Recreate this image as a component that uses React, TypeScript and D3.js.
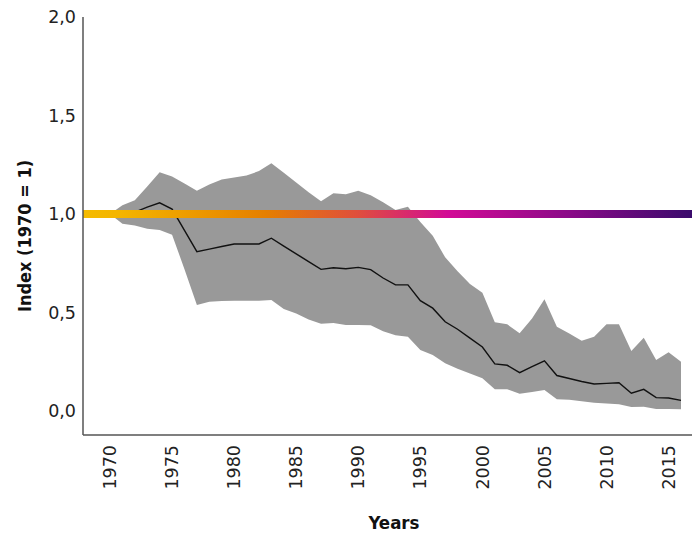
import React, { useEffect, useRef } from "react";
import * as d3 from "d3";

// years 1970..2016
const years = d3.range(1970, 2017);

// index (mean line)
const indexValues = [
  1.0, 1.0, 1.01, 1.035, 1.057, 1.025, 0.917, 0.809, 0.822, 0.835,
  0.848, 0.848, 0.848, 0.877, 0.837, 0.798, 0.758, 0.719, 0.727, 0.722,
  0.729, 0.718, 0.675, 0.64, 0.64, 0.56, 0.522, 0.453, 0.415, 0.37,
  0.325, 0.239, 0.232, 0.195, 0.225, 0.255, 0.18, 0.165, 0.15, 0.137,
  0.14, 0.143, 0.09, 0.11, 0.068, 0.066, 0.054,
];

// confidence band
const upperValues = [
  1.0, 1.045, 1.07, 1.14, 1.212, 1.19, 1.155, 1.118, 1.15, 1.175,
  1.185, 1.195, 1.218, 1.258, 1.21, 1.16, 1.11, 1.065, 1.105, 1.1,
  1.118, 1.095, 1.06, 1.02, 1.037, 0.96, 0.89, 0.78, 0.71, 0.645,
  0.6, 0.45, 0.44, 0.395, 0.47, 0.567, 0.428, 0.394, 0.357, 0.377,
  0.44, 0.44, 0.305, 0.372, 0.259, 0.298, 0.25,
];
const lowerValues = [
  1.0, 0.95, 0.942, 0.925, 0.919, 0.895, 0.72, 0.538, 0.555, 0.558,
  0.56, 0.56, 0.56, 0.563, 0.518, 0.495, 0.465, 0.443, 0.447, 0.437,
  0.437, 0.435, 0.405, 0.384, 0.377, 0.31, 0.284, 0.242, 0.215, 0.19,
  0.166, 0.11, 0.11, 0.088, 0.097, 0.107, 0.06, 0.057, 0.05, 0.042,
  0.038, 0.034, 0.02, 0.022, 0.01, 0.01, 0.009,
];

const yTicks = [0, 0.5, 1, 1.5, 2];
const xTicks = [1970, 1975, 1980, 1985, 1990, 1995, 2000, 2005, 2010, 2015];

const gradientStops = [
  [0, "#f5bb00"],
  [0.06, "#f4b500"],
  [0.3, "#e57f00"],
  [0.45, "#df4f3c"],
  [0.6, "#d20a96"],
  [0.8, "#8a0a88"],
  [1, "#3a0b6c"],
];

const W = 692, H = 533;

export default function App() {
  const ref = useRef(null);

  useEffect(() => {
    const svg = d3.select(ref.current);
    svg.selectAll("*").remove();

    const x = d3.scaleLinear().domain([1970, 2016]).range([110, 681]);
    const y = d3.scaleLinear().domain([0, 2]).range([411, 17]);
    const axisLeftX = 83, axisBottomY = 435;
    const tickFont = "'DejaVu Sans', sans-serif";
    const titleFont = "'DejaVu Sans Condensed', 'DejaVu Sans', sans-serif";

    const data = years.map((yr, i) => ({
      yr, v: indexValues[i], hi: upperValues[i], lo: lowerValues[i],
    }));

    const grad = svg.append("defs").append("linearGradient")
      .attr("id", "bandGrad")
      .attr("gradientUnits", "userSpaceOnUse")
      .attr("x1", axisLeftX).attr("x2", W).attr("y1", 0).attr("y2", 0);
    gradientStops.forEach(s => {
      grad.append("stop").attr("offset", s[0]).attr("stop-color", s[1]);
    });

    // gray band
    const area = d3.area()
      .x(d => x(d.yr))
      .y0(d => y(d.lo))
      .y1(d => y(d.hi));
    svg.append("path").datum(data)
      .attr("d", area)
      .attr("fill", "#999999");

    // index line
    const line = d3.line().x(d => x(d.yr)).y(d => y(d.v));
    svg.append("path").datum(data)
      .attr("d", line)
      .attr("fill", "none")
      .attr("stroke", "#111")
      .attr("stroke-width", 1.4);

    // baseline at 1
    svg.append("line")
      .attr("x1", axisLeftX).attr("x2", W)
      .attr("y1", y(1)).attr("y2", y(1))
      .attr("stroke", "url(#bandGrad)")
      .attr("stroke-width", 8);

    // axes
    svg.append("line")
      .attr("x1", axisLeftX).attr("x2", axisLeftX)
      .attr("y1", y(2)).attr("y2", axisBottomY)
      .attr("stroke", "#555").attr("stroke-width", 1.5);
    svg.append("line")
      .attr("x1", axisLeftX).attr("x2", W)
      .attr("y1", axisBottomY).attr("y2", axisBottomY)
      .attr("stroke", "#555").attr("stroke-width", 1.5);

    svg.selectAll(".ytick").data(yTicks).enter().append("text")
      .attr("class", "ytick")
      .attr("x", 76)
      .attr("y", d => y(d))
      .attr("dy", "0.35em")
      .attr("text-anchor", "end")
      .attr("font-family", tickFont)
      .attr("font-size", 17.5)
      .attr("fill", "#222")
      .text(d => d3.format(".1f")(d).replace(".", ","));

    svg.selectAll(".xtick").data(xTicks).enter().append("text")
      .attr("class", "xtick")
      .attr("transform", d => "translate(" + x(d) + "," + (axisBottomY + 10) + ") rotate(-90)")
      .attr("dy", "0.35em")
      .attr("text-anchor", "end")
      .attr("font-family", tickFont)
      .attr("font-size", 17.5)
      .attr("fill", "#222")
      .text(d => d);

    svg.append("text")
      .attr("x", 394).attr("y", 529)
      .attr("text-anchor", "middle")
      .attr("font-family", titleFont)
      .attr("font-stretch", "condensed")
      .attr("font-weight", "bold")
      .attr("font-size", 18.5)
      .attr("fill", "#111")
      .text("Years");

    svg.append("text")
      .attr("transform", "translate(31,236) rotate(-90)")
      .attr("text-anchor", "middle")
      .attr("font-family", titleFont)
      .attr("font-stretch", "condensed")
      .attr("font-weight", "bold")
      .attr("font-size", 18)
      .attr("fill", "#111")
      .text("Index (1970 = 1)");
  }, []);

  return (
    <svg ref={ref} width={W} height={H}
      style={{ position: "absolute", left: 0, top: 0, background: "#fff" }} />
  );
}
